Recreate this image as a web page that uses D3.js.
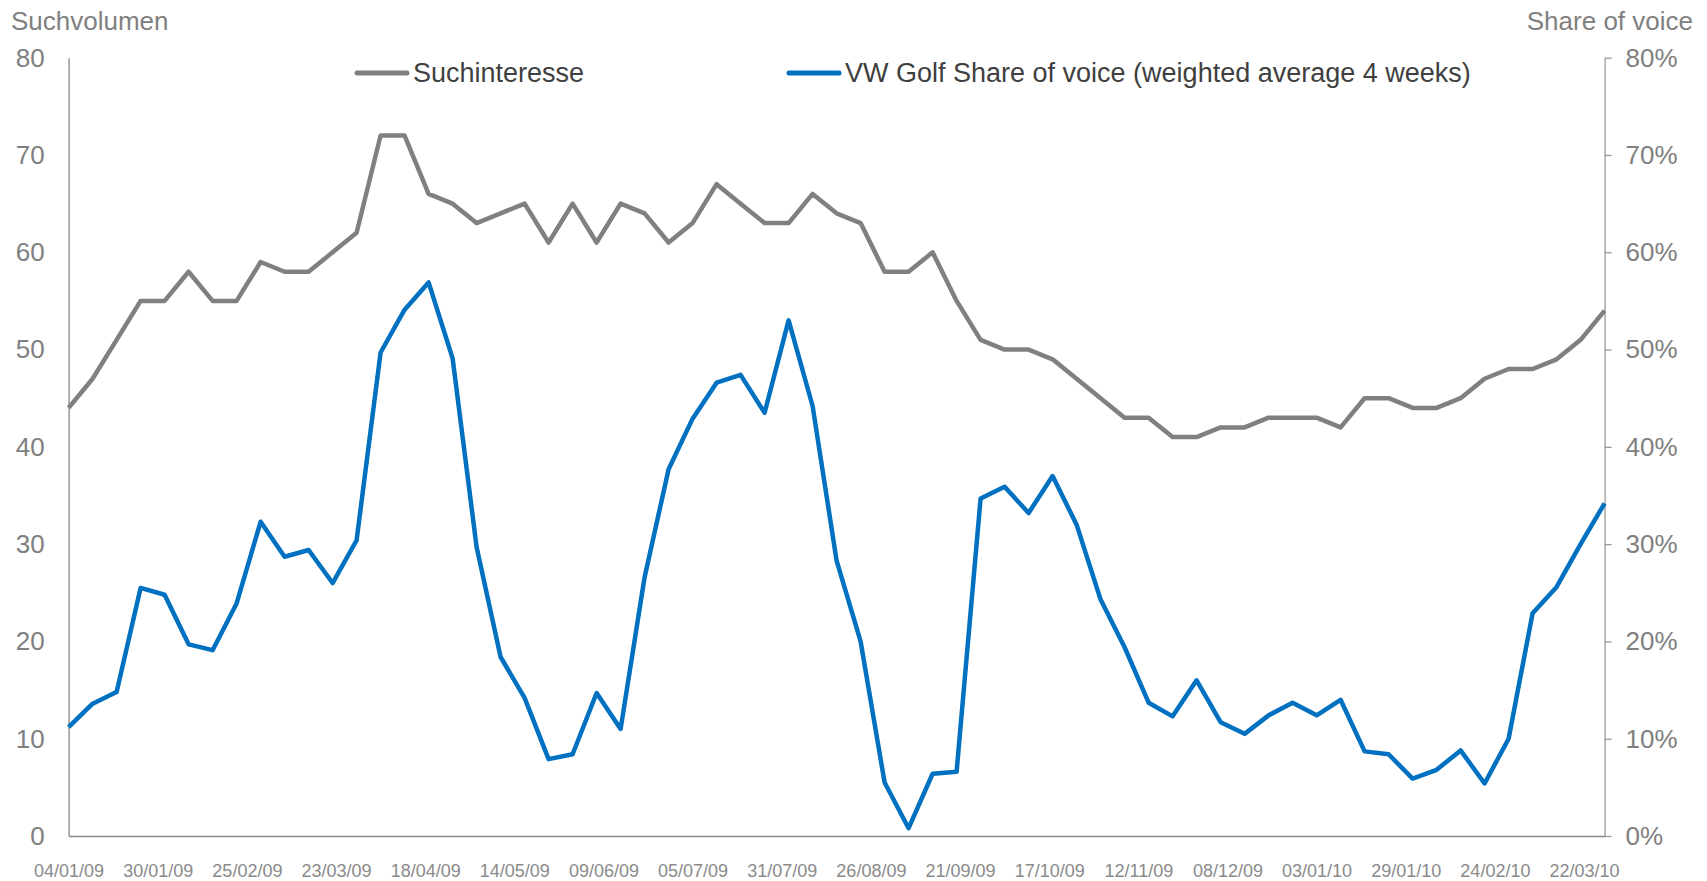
<!DOCTYPE html>
<html>
<head>
<meta charset="utf-8">
<script src="https://cdn.jsdelivr.net/npm/d3@7"></script>
<style>
body{margin:0;background:#fff}
svg{display:block;font-family:"Liberation Sans", Arial, sans-serif}
</style>
</head>
<body>
<svg id="chart" width="1707" height="881"></svg>
<script>
// weekly values, first week 04/01/09
const firstWeek = "04/01/09"
const suchinteresse = [44,47,51,55,55,58,55,55,59,58,58,60,62,72,72,66,65,63,64,65,
    61,65,61,65,64,61,63,67,65,63,63,66,64,63,58,58,60,55,51,50,
    50,49,47,45,43,43,41,41,42,42,43,43,43,42,45,45,44,44,45,47,
    48,48,49,51,54]
// share of voice in percent
const shareOfVoice = [11.2,13.6,14.8,25.5,24.8,19.7,19.1,23.9,32.3,28.7,29.4,26.0,30.4,49.7,54.1,56.9,49.1,29.7,18.4,14.2,
    7.9,8.4,14.7,11.0,26.6,37.7,42.9,46.6,47.4,43.5,53.0,44.2,28.3,20.0,5.5,0.8,6.4,6.6,34.7,35.9,
    33.2,37.0,32.0,24.3,19.4,13.7,12.3,16.0,11.7,10.5,12.4,13.7,12.4,14.0,8.7,8.4,5.9,6.8,8.8,5.4,
    10.0,22.9,25.6,30.0,34.2]
const xTickLabels = ["04/01/09","30/01/09","25/02/09","23/03/09","18/04/09","14/05/09","09/06/09","05/07/09","31/07/09",
    "26/08/09","21/09/09","17/10/09","12/11/09","08/12/09","03/01/10","29/01/10","24/02/10","22/03/10"]
const leftTicks = [0,10,20,30,40,50,60,70,80]
const rightTicks = [0,10,20,30,40,50,60,70,80]
const seriesNames = ["Suchinteresse", "VW Golf Share of voice (weighted average 4 weeks)"]
const seriesColors = ["#808080", "#0070c0"]

const svg = d3.select("#chart")
const plotLeft = 68.6, plotRight = 1604.6, plotTop = 57.7, plotBottom = 836
const parse = d3.timeParse("%d/%m/%y")
const weeks = suchinteresse.map((d, i) => d3.timeDay.offset(parse(firstWeek), 7*i))

const x = d3.scaleTime().domain([weeks[0], weeks[weeks.length-1]]).range([plotLeft, plotRight])
const yL = d3.scaleLinear().domain([0, 80]).range([plotBottom, plotTop])
const yR = d3.scaleLinear().domain([0, 80]).range([plotBottom, plotTop])

// axes
const xAxis = svg.append("g").attr("transform", `translate(0,${plotBottom})`)
    .call(d3.axisBottom(x).tickValues(xTickLabels.map(parse)).tickFormat(d3.timeFormat("%d/%m/%y"))
        .tickSize(0).tickPadding(28))
xAxis.select(".domain").attr("stroke", "#878787").attr("stroke-width", 1.3)
xAxis.selectAll("text").attr("fill", "#8a8a8a").style("font-size", "18px")

const yAxisL = svg.append("g").attr("transform", `translate(${plotLeft},0)`)
    .call(d3.axisLeft(yL).tickValues(leftTicks).tickSize(0).tickPadding(24))
yAxisL.select(".domain").attr("stroke", "#878787").attr("stroke-width", 1.3)
yAxisL.selectAll("text").attr("fill", "#808080").style("font-size", "26px")

const yAxisR = svg.append("g").attr("transform", `translate(${plotRight},0)`)
    .call(d3.axisRight(yR).tickValues(rightTicks).tickFormat(d => d + "%").tickSize(7).tickSizeOuter(0).tickPadding(14))
yAxisR.select(".domain").attr("stroke", "#9a9a9a").attr("stroke-width", 1.3)
yAxisR.selectAll("line").attr("stroke", "#9a9a9a").attr("stroke-width", 1.3)
yAxisR.selectAll("text").attr("fill", "#808080").style("font-size", "26px")

// axis titles
svg.append("text").attr("x", 11).attr("y", 30).attr("fill", "#808080")
    .style("font-size", "26px").text("Suchvolumen")
svg.append("text").attr("x", 1693).attr("y", 30).attr("text-anchor", "end").attr("fill", "#808080")
    .style("font-size", "26px").text("Share of voice")

// lines
const lineL = d3.line().x((d, i) => x(weeks[i])).y(d => yL(d))
const lineR = d3.line().x((d, i) => x(weeks[i])).y(d => yR(d))
svg.append("path").datum(suchinteresse).attr("d", lineL)
    .attr("fill", "none").attr("stroke", seriesColors[0]).attr("stroke-width", 4.5).attr("stroke-linejoin", "round")
svg.append("path").datum(shareOfVoice).attr("d", lineR)
    .attr("fill", "none").attr("stroke", seriesColors[1]).attr("stroke-width", 4.5).attr("stroke-linejoin", "round")

// legend
const legendX = [357, 789]
seriesNames.forEach((name, i) => {
    const g = svg.append("g").attr("transform", `translate(${legendX[i]},73)`)
    g.append("line").attr("x1", 0).attr("x2", 50).attr("stroke", seriesColors[i])
        .attr("stroke-width", 5).attr("stroke-linecap", "round")
    g.append("text").attr("x", 56).attr("dy", "0.35em").attr("fill", "#3f3f3f")
        .style("font-size", "27px").text(name)
})
</script>
</body>
</html>
